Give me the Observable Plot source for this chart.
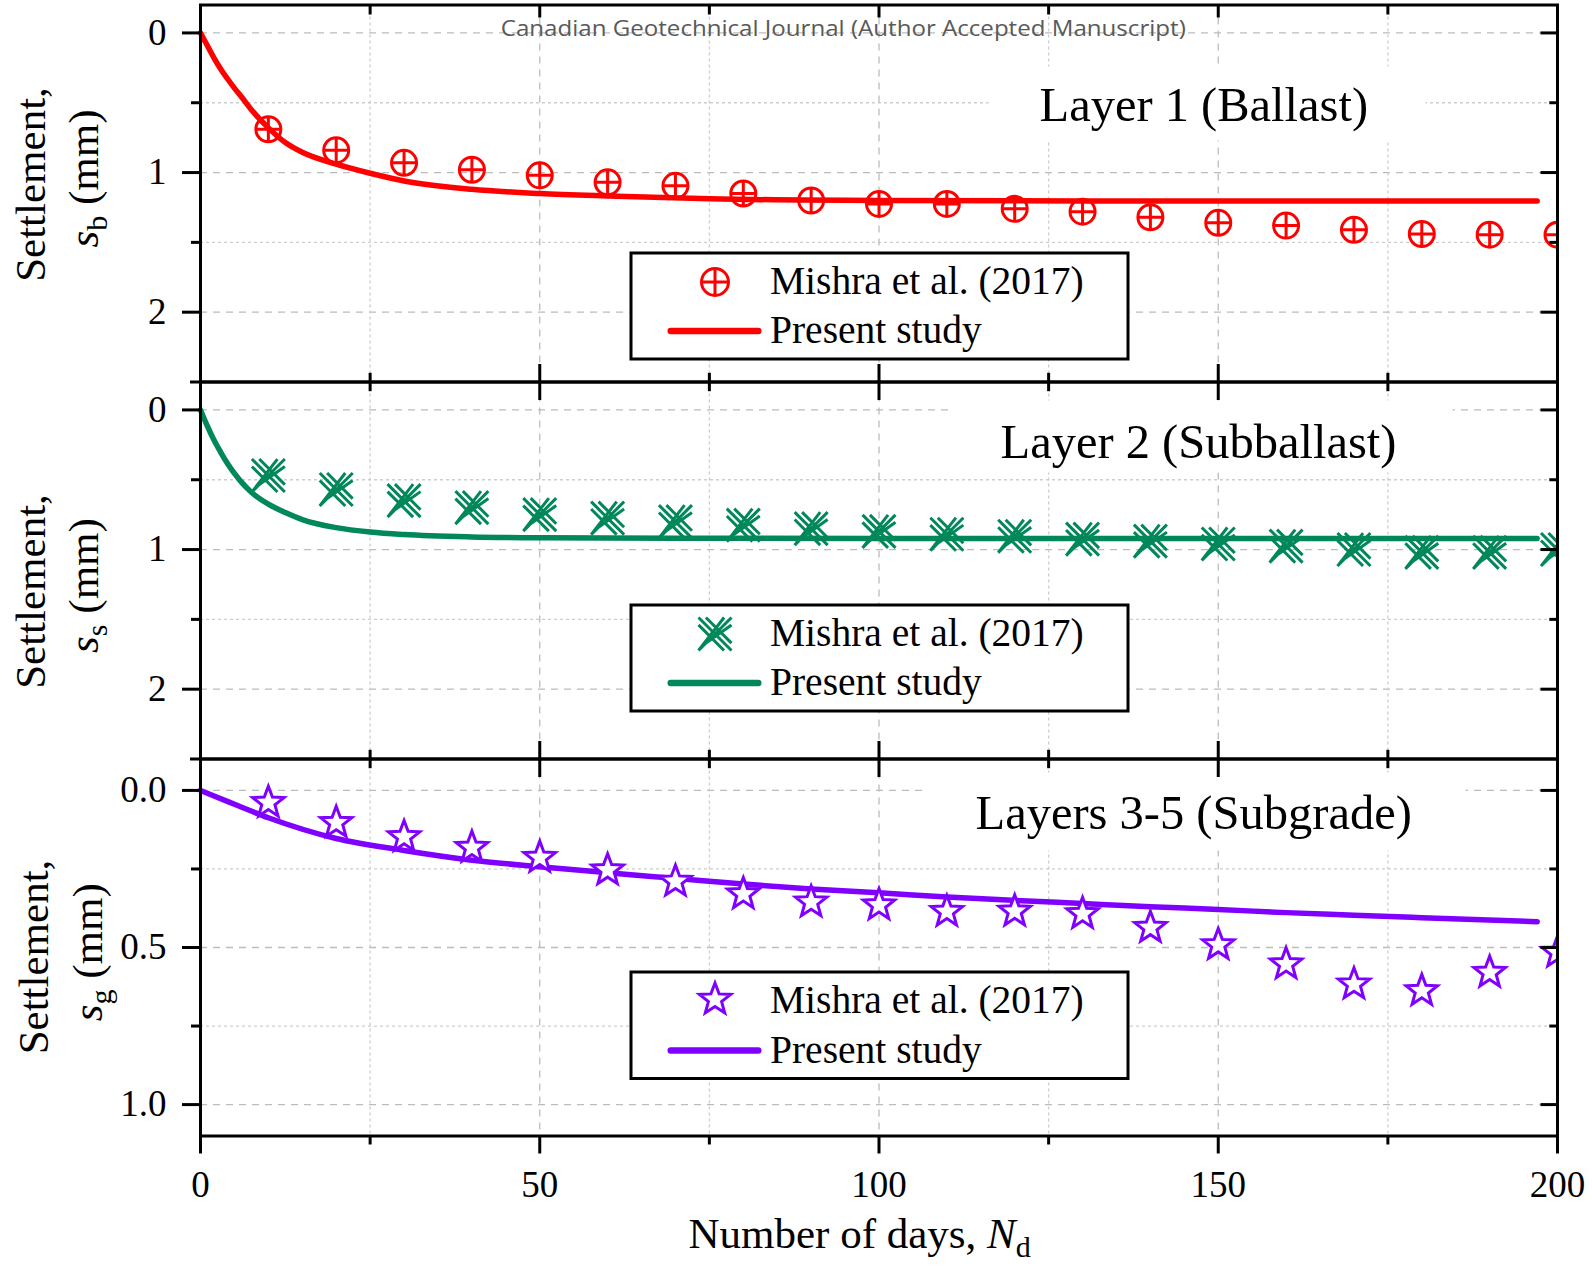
<!DOCTYPE html>
<html>
<head>
<meta charset="utf-8">
<script src="https://cdn.jsdelivr.net/npm/d3@7"></script>
<script src="https://cdn.jsdelivr.net/npm/@observablehq/plot@0.6"></script>
<style>
  body { margin: 0; background: #fff; }
  #chart { position: relative; width: 1592px; height: 1267px; background: #fff; overflow: hidden; }
  #chart svg { position: absolute; left: 0; overflow: visible; }
</style>
</head>
<body>
<div id="chart"></div>
<script>
// ---- Data -----------------------------------------------------------------
const days = [10, 20, 30, 40, 50, 60, 70, 80, 90, 100, 110, 120, 130, 140, 150, 160, 170, 180, 190, 200];

// Measured settlements, Mishra et al. (2017), in mm
const ballastMeasured    = [0.69, 0.84, 0.93, 0.98, 1.02, 1.07, 1.095, 1.15, 1.20, 1.225, 1.225, 1.26, 1.28, 1.32, 1.36, 1.38, 1.41, 1.44, 1.445, 1.445];
const subballastMeasured = [0.47, 0.57, 0.65, 0.70, 0.75, 0.775, 0.80, 0.825, 0.85, 0.87, 0.89, 0.905, 0.925, 0.94, 0.96, 0.975, 1.00, 1.02, 1.02, 1.00];
const subgradeMeasured   = [0.039, 0.103, 0.148, 0.182, 0.214, 0.254, 0.29, 0.33, 0.356, 0.365, 0.386, 0.385, 0.393, 0.437, 0.492, 0.553, 0.617, 0.638, 0.58, 0.516];

// Present study, predicted settlement curves
const ballastModelDays    = [0, 1, 2, 3, 4, 5, 6, 7.5, 10, 12.5, 15, 20, 25, 30, 40, 50, 60, 75, 100, 130, 197];
const ballastModel        = [0, 0.09, 0.18, 0.26, 0.33, 0.395, 0.455, 0.55, 0.68, 0.785, 0.855, 0.94, 1.005, 1.06, 1.12, 1.15, 1.168, 1.188, 1.2, 1.203, 1.203];
const subballastModelDays = [0, 1, 2, 3, 4, 5, 6, 7.5, 10, 12.5, 15, 20, 25, 30, 40, 50, 70, 100, 197];
const subballastModel     = [0, 0.115, 0.218, 0.305, 0.385, 0.455, 0.515, 0.59, 0.675, 0.735, 0.785, 0.843, 0.875, 0.893, 0.91, 0.916, 0.919, 0.92, 0.92];
const subgradeModelDays   = [0, 2, 5, 10, 20, 30, 40, 50, 60, 70, 80, 90, 100, 110, 120, 130, 140, 150, 160, 170, 180, 197];
const subgradeModel       = [0, 0.018, 0.044, 0.087, 0.153, 0.191, 0.222, 0.243, 0.262, 0.28, 0.298, 0.314, 0.326, 0.339, 0.35, 0.36, 0.37, 0.379, 0.389, 0.397, 0.405, 0.418];

// Ticks
const xMajorTicks = [0, 50, 100, 150, 200];
const xMinorTicks = [25, 75, 125, 175];
const yMajorTicks = [0, 1, 2];
const yMinorTicks = [0.5, 1.5];
const subgradeMajorTicks = [0, 0.5, 1.0];
const subgradeMinorTicks = [0.25, 0.75];

// Text
const measuredLabel = "Mishra et al. (2017)";
const modelLabel = "Present study";
const yLabelTop = "Settlement,";
const ballastUnit    = [{text: "s", italic: true}, {text: "b", sub: true}, {text: " (mm)"}];
const subballastUnit = [{text: "s", italic: true}, {text: "s", sub: true}, {text: " (mm)"}];
const subgradeUnit   = [{text: "s", italic: true}, {text: "g", sub: true}, {text: " (mm)"}];
const xLabel = [{text: "Number of days, "}, {text: "N", italic: true}, {text: "d", sub: true}];
const journalNote = "Canadian Geotechnical Journal (Author Accepted Manuscript)";

// ---- Symbols ----------------------------------------------------------------
const circlePlus = {
  draw(ctx, size) {
    const r = Math.sqrt(size / Math.PI);
    ctx.moveTo(r, 0); ctx.arc(0, 0, r, 0, 2 * Math.PI);
    ctx.moveTo(-r, 0); ctx.lineTo(r, 0);
    ctx.moveTo(0, -r); ctx.lineTo(0, r);
  }
};
// diagonal lattice: three parallel strokes in each diagonal direction, clipped to a square
const diagonalLattice = {
  draw(ctx, size) {
    const s = Math.sqrt(size / Math.PI), c = 0.45 * s;
    for (const k of [-c, 0, c]) {
      ctx.moveTo(Math.max(-s, -s - k), Math.max(-s, -s + k));
      ctx.lineTo(Math.min(s, s - k), Math.min(s, s + k));
      ctx.moveTo(Math.min(s, s + k), Math.max(-s, -s + k));
      ctx.lineTo(Math.max(-s, -s + k), Math.min(s, s - k));
    }
  }
};
const openStar = {
  draw(ctx, size) {
    const R = Math.sqrt(size / Math.PI), r = R * 0.42;
    for (let k = 0; k < 10; k++) {
      const a = -Math.PI / 2 + k * Math.PI / 5, rr = k % 2 ? r : R;
      const x = rr * Math.cos(a), y = rr * Math.sin(a);
      k ? ctx.lineTo(x, y) : ctx.moveTo(x, y);
    }
    ctx.closePath();
  }
};

// ---- Layout ---------------------------------------------------------------
const SERIF = "Liberation Serif, 'Times New Roman', serif";
const W = 1592, H = 1267, ML = 200, MR = 35, FH = 377;
const gridMajor = {stroke: "#bcbcbc", strokeOpacity: 1, strokeWidth: 1.3, strokeDasharray: "7,6"};
const gridMinor = {stroke: "#cdcdcd", strokeOpacity: 1, strokeWidth: 1.3, strokeDasharray: "3,3"};
const tick = {stroke: "black", strokeWidth: 3, label: null, tickFormat: () => ""};

const panels = [
  {
    svgTop: 0, height: 382, top: 4.5, marginBottom: 0.5,
    domain: [-0.2, 2.5], major: yMajorTicks, minor: yMinorTicks, fmt: d3.format("d"),
    color: "#ff0000", symbol: circlePlus, r: 12.5, legendR: 13.5, fill: "none", sw: 3,
    measured: ballastMeasured, modelDays: ballastModelDays, model: ballastModel,
    title: "Layer 1 (Ballast)", titleAt: [1039, 120.5], titleBg: [988, 66, 1425, 140],
    unit: ballastUnit, label1: [44, 184], label2: [97, 178],
    legend: {box: [630.5, 252.5, 1127.5, 358.5], marker: 281.5, line: 330.5, t1: 293.5, t2: 342},
    topTick: [12, 9], topEdgeTick: false, watermark: true
  },
  {
    svgTop: 381, height: 378, top: 381.5, marginBottom: 0.5,
    domain: [-0.2, 2.5], major: yMajorTicks, minor: yMinorTicks, fmt: d3.format("d"),
    color: "#00875a", symbol: diagonalLattice, r: 16.5, legendR: 16.5, fill: "none", sw: 3,
    measured: subballastMeasured, modelDays: subballastModelDays, model: subballastModel,
    title: "Layer 2 (Subballast)", titleAt: [1000, 457], titleBg: [948, 400, 1452, 472],
    unit: subballastUnit, label1: [44, 591], label2: [97, 585],
    legend: {box: [630.5, 604.5, 1127.5, 710.5], marker: 633.5, line: 682.5, t1: 645, t2: 694.5},
    topTick: [17.5, 8.7], topEdgeTick: true
  },
  {
    svgTop: 758, height: 509, top: 758.5, marginBottom: 131.5,
    domain: [-0.1, 1.1], major: subgradeMajorTicks, minor: subgradeMinorTicks, fmt: d3.format(".1f"),
    color: "#8000ff", symbol: openStar, r: 16.5, legendR: 16.5, fill: "white", sw: 3,
    measured: subgradeMeasured, modelDays: subgradeModelDays, model: subgradeModel,
    title: "Layers 3-5 (Subgrade)", titleAt: [975, 828], titleBg: [925, 772, 1465, 850],
    unit: subgradeUnit, label1: [47.5, 956.5], label2: [101, 951.7],
    legend: {box: [630.5, 971.5, 1127.5, 1078], marker: 999, line: 1050, t1: 1012, t2: 1062},
    topTick: [17.5, 8.7], topEdgeTick: true, xAxis: true
  }
];

// Replace a plain text element by styled segments (italic, subscripts)
function applySegments(svg, segs, size) {
  const plain = segs.map(s => s.text).join("");
  for (const el of svg.querySelectorAll("text")) {
    if (el.textContent !== plain) continue;
    el.textContent = "";
    let shift = 0;
    for (const s of segs) {
      const t = document.createElementNS("http://www.w3.org/2000/svg", "tspan");
      t.textContent = s.text;
      if (s.italic) t.setAttribute("font-style", "italic");
      const target = s.sub ? 0.22 * size : 0;
      if (target !== shift) { t.setAttribute("dy", target - shift); shift = target; }
      if (s.sub) t.setAttribute("font-size", 0.7 * size);
      el.appendChild(t);
    }
  }
}

const chart = document.getElementById("chart");

panels.forEach(p => {
  const at = (px, py) => ({frameAnchor: "top-left", dx: px - ML, dy: py - p.top});
  const box = ([x0, y0, x1, y1], opts) => Plot.frame({
    insetLeft: x0 - ML, insetTop: y0 - p.top, insetRight: (W - MR) - x1, insetBottom: (p.top + FH) - y1, ...opts
  });
  const measured = days.map((d, i) => ({day: d, s: p.measured[i]}));
  const model = p.modelDays.map((d, i) => ({day: d, s: p.model[i]}));
  const lg = p.legend;
  const txt = (s, px, py, o = {}) => Plot.text([s], {...at(px, py), text: d => d, fontFamily: SERIF, lineAnchor: "bottom", textAnchor: "start", fill: "black", ...o});

  const marks = [
    Plot.gridY(p.minor, gridMinor),
    Plot.gridY(p.major, gridMajor),
    Plot.gridX(xMinorTicks, gridMinor),
    Plot.gridX(xMajorTicks.slice(1, -1), gridMajor),
    box(p.titleBg, {fill: "white", stroke: "none"}),
    Plot.line(model, {x: "day", y: "s", stroke: p.color, strokeWidth: 5.5, curve: "monotone-x"}),
    Plot.dot(measured, {x: "day", y: "s", symbol: p.symbol, r: p.r, stroke: p.color, fill: p.fill, strokeWidth: p.sw, clip: true}),
    // legend
    box(lg.box, {fill: "white", stroke: "black", strokeWidth: 3}),
    Plot.dot([0], {...at(714.5, lg.marker), symbol: p.symbol, r: p.legendR, stroke: p.color, fill: p.fill, strokeWidth: p.sw}),
    box([667, lg.line - 3.25, 761, lg.line + 3.25], {fill: p.color, stroke: "none", rx: 3.25}),
    txt(measuredLabel, 769.5, lg.t1, {fontSize: 39.5}),
    txt(modelLabel, 769.5, lg.t2, {fontSize: 39.5}),
    // panel title
    txt(p.title, p.titleAt[0], p.titleAt[1], {fontSize: 48.5}),
    // y label (two rotated lines)
    txt(yLabelTop, p.label1[0], p.label1[1], {fontSize: 43, rotate: -90, textAnchor: "middle"}),
    txt(p.unit.map(s => s.text).join(""), p.label2[0], p.label2[1], {fontSize: 43, rotate: -90, textAnchor: "middle"}),
    // frame and ticks
    Plot.frame({stroke: "black", strokeWidth: 3}),
    Plot.axisY({anchor: "left", ticks: p.major, tickSize: 18, tickPadding: 16, tickFormat: p.fmt,
      fontSize: 37, fontFamily: SERIF, stroke: "black", strokeWidth: 3, label: null}),
    Plot.axisY({...tick, anchor: "left", ticks: p.minor, tickSize: 9}),
    Plot.axisY({...tick, anchor: "right", ticks: p.major, tickSize: 17.5, dx: -17.5}),
    Plot.axisY({...tick, anchor: "right", ticks: p.minor, tickSize: 8.7, dx: -8.7}),
    Plot.axisX({...tick, anchor: "top", ticks: xMajorTicks, tickSize: p.topTick[0], dy: p.topTick[0]}),
    Plot.axisX({...tick, anchor: "top", ticks: xMinorTicks, tickSize: p.topTick[1], dy: p.topTick[1]})
  ];
  if (p.topEdgeTick) marks.push(Plot.axisY({...tick, anchor: "left", ticks: [p.domain[0]], tickSize: 10}));
  if (p.xAxis) {
    marks.push(
      Plot.axisX({anchor: "bottom", ticks: xMajorTicks, tickSize: 18, tickPadding: 17, tickFormat: d3.format("d"),
        fontSize: 37, fontFamily: SERIF, stroke: "black", strokeWidth: 3, label: null}),
      Plot.axisX({...tick, anchor: "bottom", ticks: xMinorTicks, tickSize: 9}),
      txt(xLabel.map(s => s.text).join(""), 688, 1247, {fontSize: 43})
    );
  } else {
    marks.push(
      Plot.axisX({...tick, anchor: "bottom", ticks: xMajorTicks, tickSize: 17.5, dy: -17.5}),
      Plot.axisX({...tick, anchor: "bottom", ticks: xMinorTicks, tickSize: 8.7, dy: -8.7})
    );
  }
  if (p.watermark) {
    marks.push(txt(journalNote, 842.75, 35, {fontSize: 22, fontFamily: "'Open Sans', 'Noto Sans', sans-serif", fill: "#595959", textAnchor: "middle"}));
  }

  const svg = Plot.plot({
    width: W, height: p.height,
    marginLeft: ML, marginRight: MR, marginTop: p.top - p.svgTop, marginBottom: p.marginBottom,
    x: {domain: [0, 200], axis: null},
    y: {domain: p.domain, reverse: true, axis: null},
    style: {background: "transparent", overflow: "visible", fontFamily: SERIF, fontSize: "37px", color: "black"},
    marks
  });
  svg.style.top = p.svgTop + "px";
  applySegments(svg, p.unit, 43);
  if (p.xAxis) applySegments(svg, xLabel, 43);
  for (const el of svg.querySelectorAll("text")) {
    if (el.textContent === journalNote) {
      el.setAttribute("textLength", 685);
      el.setAttribute("lengthAdjust", "spacingAndGlyphs");
    }
  }
  chart.appendChild(svg);
});
</script>
</body>
</html>
